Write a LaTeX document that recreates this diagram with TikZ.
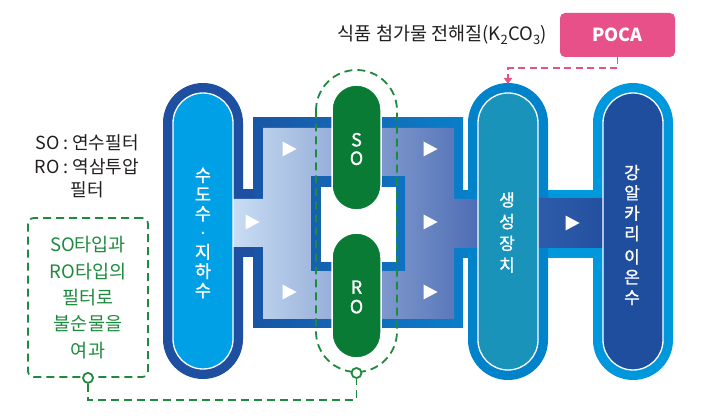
\documentclass[tikz,border=0pt]{standalone}
\usepackage{fontspec}
\setmainfont{Noto Sans CJK KR}
\newfontfamily\krmed{Noto Sans CJK KR}[FakeBold=1.2]
\usetikzlibrary{shapes.geometric,arrows.meta}
\definecolor{ringdark}{HTML}{1E4FA0}
\definecolor{skyin}{HTML}{00A0E6}
\definecolor{boxL}{HTML}{1A55A6}
\definecolor{boxR}{HTML}{0A7EC9}
\definecolor{gradL}{HTML}{C9DDF3}
\definecolor{gradR}{HTML}{4E6CB4}
\definecolor{genring}{HTML}{0083CB}
\definecolor{genin}{HTML}{1A93BA}
\definecolor{alkring}{HTML}{0098DD}
\definecolor{alkin}{HTML}{1F4E9F}
\definecolor{conL}{HTML}{2E5BAA}
\definecolor{conR}{HTML}{23509F}
\definecolor{pillgreen}{HTML}{0A7B35}
\definecolor{dashgreen}{HTML}{1E8A3E}
\definecolor{pocapink}{HTML}{E8508A}
\definecolor{txtdark}{HTML}{231F20}
\begin{document}
\begin{tikzpicture}[x=1pt,y=-1pt]
\tikzset{
  tri/.style={isosceles triangle, isosceles triangle stretches, fill=white,
    minimum width=15pt, minimum height=14pt, inner sep=0pt},
  gpill/.style={fill=pillgreen, draw=white, line width=1.5pt, rounded corners=24.5pt},
  inpill/.style={draw=white, line width=1.3pt, rounded corners=30pt},
  stack/.style={align=center, text=white, inner sep=0pt},
  gdash/.style={draw=dashgreen, line width=1.8pt, dash pattern=on 8pt off 5pt},
  ringdot/.style={circle, draw=dashgreen, line width=1.8pt, fill=white, minimum size=10pt, inner sep=0pt},
  pdash/.style={draw=pocapink, line width=1.8pt, dash pattern=on 7pt off 4.5pt},
}
\useasboundingbox (0,0) rectangle (701,419);
\fill[white] (0,0) rectangle (701,419);

% box outer border and connector outers
\shade[left color=boxL, right color=boxR] (253,118) rectangle (463,328);
\fill[ringdark] (240,189) rectangle (254,257);
\fill[boxR] (462,190) rectangle (471,258);
\fill[alkring] (545,190) rectangle (596,258);

% pillar rings
\fill[ringdark, rounded corners=40pt] (163,83) rectangle (243,379);
\fill[genring, rounded corners=40pt] (468,83) rectangle (548,380);
\fill[alkring, rounded corners=40pt] (593,83) rectangle (673,380);

% inner gradient region (through the rings)
\shade[left color=gradL, right color=gradR]
  (232,199) rectangle (264,247)
  (263,128) rectangle (454,319)
  (453,199) rectangle (479,248);
\shade[left color=conL, right color=conR] (537,199) rectangle (604,248);

% central hole
\shade[left color=boxL!72!boxR, right color=boxL!28!boxR] (311,177) rectangle (405,271);
\fill[white] (321,187) rectangle (396,262);

% inner pills
\filldraw[inpill, fill=skyin] (173,93) rectangle (233,369);
\filldraw[inpill, fill=genin] (478,93) rectangle (538,370);
\filldraw[inpill, fill=alkin] (603,93) rectangle (663,370);

% arrows
\node[tri] (t1) at (287,149) {};
\node[tri] (t2) at (287,292) {};
\node[tri] (t3) at (250,222) {};
\node[tri] (t4) at (428,149) {};
\node[tri] (t5) at (428,222) {};
\node[tri] (t6) at (428,292) {};
\node[tri] (t7) at (570,223) {};

% green filters
\filldraw[gpill] (332,85) rectangle (381,210);
\filldraw[gpill] (332,233) rectangle (381,358);
\draw[gdash, rounded corners=40.5pt] (316,70) rectangle (397,372);
\node[ringdot] (rring) at (356.5,373) {};

% pillar texts
\node[stack, font=\krmed\fontsize{17.5}{19.2}\selectfont] (tap) at (203,233)
  {수\\도\\수\\·\\지\\하\\수};
\node[stack, font=\krmed\fontsize{17}{21.7}\selectfont] (gen) at (507,232.5)
  {생\\성\\장\\치};
\node[stack, font=\krmed\fontsize{17}{20.3}\selectfont] (alk) at (632,235)
  {강\\알\\카\\리\\[3pt]이\\온\\수};
\node[stack, font=\krmed\fontsize{18}{18.5}\selectfont] (so) at (356.5,149) {S\\O};
\node[stack, font=\krmed\fontsize{18}{19.5}\selectfont] (ro) at (356.5,297) {R\\O};

% top label and POCA
\node[text=txtdark, font=\fontsize{18.5}{22}\selectfont, inner sep=0pt] (elec) at (442.5,35)
  {식품 첨가물 전해질(K\textsubscript{2}CO\textsubscript{3})};
\node[fill=pocapink, rounded corners=5pt, minimum width=115pt, minimum height=44pt,
  inner sep=0pt, text=white, font=\fontsize{18}{20}\selectfont\bfseries] (poca) at (617.5,35) {POCA};
\coordinate (gentop) at (508,84);
\draw[pdash, -{Triangle[length=6pt,width=8pt]}] (poca.south) -- ++(0,11) -| (gentop);

% left legend
\node[text=txtdark, align=center, inner sep=0pt, font=\fontsize{18}{23.5}\selectfont] (legend) at (87,166.5)
  {SO : 연수필터\\RO : 역삼투압\\필터};
\node[gdash, rounded corners=6pt, minimum width=120pt, minimum height=159pt, inner sep=0pt,
  text=dashgreen, align=center, font=\fontsize{18.5}{26.3}\selectfont] (gbox) at (88,297.5)
  {SO타입과\\RO타입의\\필터로\\불순물을\\여과};
\node[ringdot] (lring) at (gbox.south) {};
\draw[gdash] (lring.south) -- ++(0,16) -| (rring.south);
\end{tikzpicture}
\end{document}
